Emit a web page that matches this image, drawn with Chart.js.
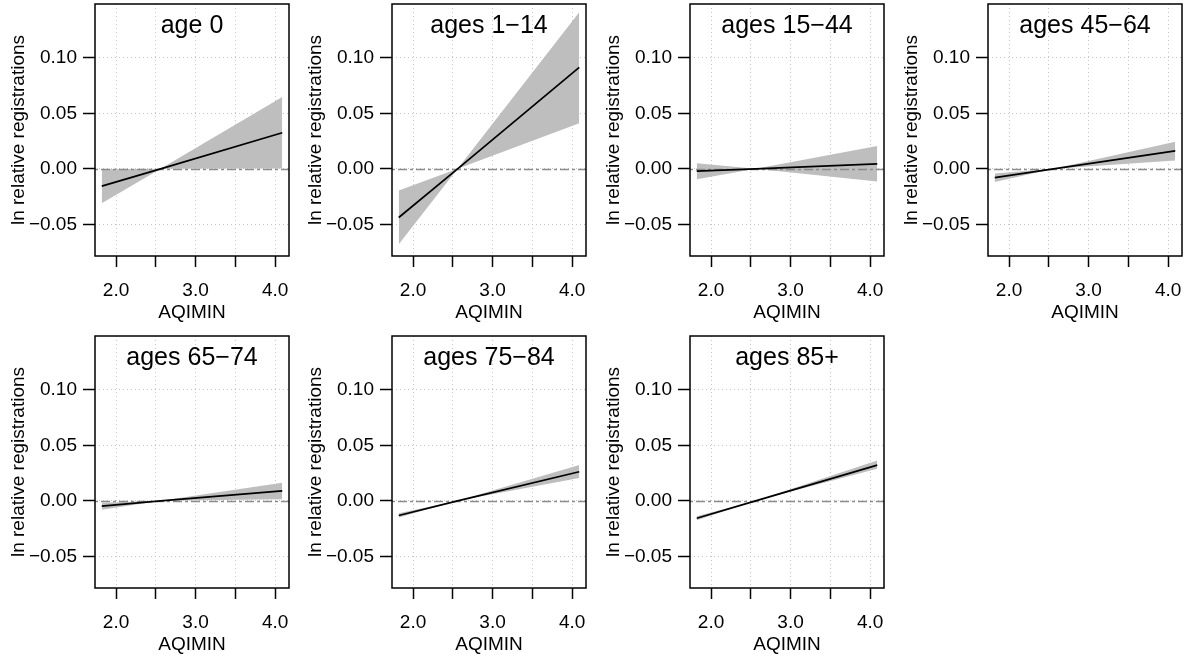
<!DOCTYPE html>
<html>
<head>
<meta charset="utf-8">
<script src="https://cdn.jsdelivr.net/npm/chart.js@4.4.1/dist/chart.umd.min.js"></script>
<style>
  html, body { margin: 0; padding: 0; background: #fff; }
  #wrap { position: relative; width: 1191px; height: 657px; overflow: hidden; }
  .panel { position: absolute; width: 298px; height: 328px; }
</style>
</head>
<body>
<div id="wrap"></div>
<script>
// --- datos ---
const panelTitles = ['age 0', 'ages 1\u221214', 'ages 15\u221244', 'ages 45\u221264',
                     'ages 65\u221274', 'ages 75\u221284', 'ages 85+'];
const aqiX = [1.82, 2.56, 4.09];   // AQIMIN: inicio, referencia, final

// una fila por panel, valores en aqiX
const fitLine = [
  [-0.0155, 0, 0.0325],
  [-0.0438, 0, 0.0915],
  [-0.0020, 0, 0.0045],
  [-0.0079, 0, 0.0162],
  [-0.0048, 0, 0.0090],
  [-0.0132, 0, 0.0262],
  [-0.0157, 0, 0.0322]
];
const bandUpper = [
  [-0.0003, 0, 0.0648],
  [-0.0196, 0, 0.1410],
  [ 0.0051, 0, 0.0205],
  [-0.0042, 0, 0.0245],
  [-0.0018, 0, 0.0163],
  [-0.0111, 0, 0.0322],
  [-0.0138, 0, 0.0364]
];
const bandLower = [
  [-0.0310, 0, 0.0003],
  [-0.0680, 0, 0.0410],
  [-0.0093, 0, -0.0115],
  [-0.0118, 0, 0.0075],
  [-0.0081, 0, 0.0015],
  [-0.0150, 0, 0.0205],
  [-0.0174, 0, 0.0290]
];
const xTicks = [2.0, 2.5, 3.0, 3.5, 4.0];
const xTickLabels = ['2.0', '', '3.0', '', '4.0'];
const yTicks = [-0.05, 0, 0.05, 0.10];
const yTickLabels = ['\u22120.05', '0.00', '0.05', '0.10'];
const xRange = [1.735, 4.175];
const yRange = [-0.0785, 0.1485];

Chart.defaults.font.family = '"Liberation Sans", Arial, Helvetica, sans-serif';
Chart.defaults.color = '#000';

const colLeft = [0, 297, 595, 893];
const rowTop = [0, 332];

function toPoints(vals) {
  return vals.map((v, i) => ({ x: aqiX[i], y: v }));
}

// linea en cero, marco y titulo del panel
function makeDecor(title) {
  return {
    id: 'panelDecor',
    afterDatasetDraw(chart, args) {
      if (args.index !== 1) return;
      const ctx = chart.ctx, a = chart.chartArea;
      const y0 = Math.round(chart.scales.y.getPixelForValue(0)) + 0.5;
      ctx.save();
      ctx.strokeStyle = '#8c8c8c';
      ctx.lineWidth = 1.3;
      ctx.setLineDash([3, 3, 9, 3]);
      ctx.beginPath();
      ctx.moveTo(a.left, y0);
      ctx.lineTo(a.right, y0);
      ctx.stroke();
      ctx.restore();
    },
    afterDatasetsDraw(chart) {
      const ctx = chart.ctx, a = chart.chartArea;
      ctx.save();
      ctx.strokeStyle = '#000';
      ctx.lineWidth = 1.5;
      ctx.strokeRect(Math.round(a.left), Math.round(a.top), Math.round(a.right - a.left), Math.round(a.bottom - a.top));
      ctx.fillStyle = '#000';
      ctx.font = '25px "Liberation Sans", Arial, sans-serif';
      ctx.textAlign = 'center';
      ctx.textBaseline = 'alphabetic';
      ctx.fillText(title, (a.left + a.right) / 2, a.top + 29);
      ctx.restore();
    }
  };
}

const wrap = document.getElementById('wrap');

panelTitles.forEach((title, p) => {
  const div = document.createElement('div');
  div.className = 'panel';
  div.style.left = colLeft[p % 4] + 'px';
  div.style.top = rowTop[Math.floor(p / 4)] + 'px';
  const canvas = document.createElement('canvas');
  canvas.width = 298;
  canvas.height = 328;
  div.appendChild(canvas);
  wrap.appendChild(div);

  new Chart(canvas.getContext('2d'), {
    type: 'line',
    data: {
      datasets: [
        { label: 'fit', data: toPoints(fitLine[p]), borderColor: '#000', borderWidth: 1.7,
          pointRadius: 0, fill: false, tension: 0 },
        { label: 'upper', data: toPoints(bandUpper[p]), borderWidth: 0, borderColor: 'rgba(0,0,0,0)',
          backgroundColor: '#bebebe', pointRadius: 0, fill: '+1', tension: 0 },
        { label: 'lower', data: toPoints(bandLower[p]), borderWidth: 0, borderColor: 'rgba(0,0,0,0)',
          pointRadius: 0, fill: false, tension: 0 }
      ]
    },
    options: {
      responsive: false,
      devicePixelRatio: 1,
      animation: false,
      layout: { padding: { top: 4, right: 9, left: 0, bottom: 0 } },
      plugins: { legend: { display: false }, tooltip: { enabled: false } },
      scales: {
        x: {
          type: 'linear',
          min: xRange[0],
          max: xRange[1],
          afterBuildTicks: s => { s.ticks = xTicks.map(v => ({ value: v })); },
          afterFit: s => { s.height = 72; s.paddingLeft = 0; s.paddingRight = 0; },
          grid: { color: '#c4c4c4', lineWidth: 1, tickLength: 11, tickColor: '#000', tickWidth: 1.5 },
          border: { display: false, dash: [1, 3] },
          ticks: {
            autoSkip: false, maxRotation: 0, padding: 12,
            font: { size: 19 },
            callback: (v, i) => xTickLabels[i]
          },
          title: { display: true, text: 'AQIMIN', font: { size: 19 }, padding: { top: 0, bottom: 4 } }
        },
        y: {
          min: yRange[0],
          max: yRange[1],
          afterBuildTicks: s => { s.ticks = yTicks.map(v => ({ value: v })); },
          afterFit: s => { s.width = 95; s.paddingTop = 0; s.paddingBottom = 0; },
          grid: { color: '#c4c4c4', lineWidth: 1, tickLength: 12, tickColor: '#000', tickWidth: 1.5 },
          border: { display: false, dash: [1, 3] },
          ticks: {
            autoSkip: false, padding: 6,
            font: { size: 19 },
            callback: (v, i) => yTickLabels[i]
          },
          title: { display: true, text: 'ln relative registrations', font: { size: 19 }, padding: { top: 7, bottom: 0 } }
        }
      }
    },
    plugins: [makeDecor(title)]
  });
});
</script>
</body>
</html>
